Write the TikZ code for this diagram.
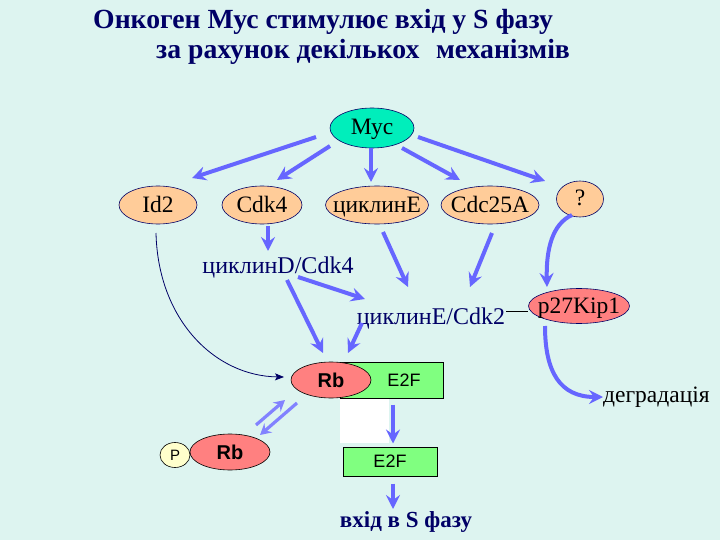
\documentclass[tikz,border=0pt]{standalone}
\usepackage{fontspec}
\setmainfont{Liberation Serif}
\setsansfont{Liberation Sans}
\usetikzlibrary{shapes.geometric,arrows.meta}
\definecolor{bg}{RGB}{221,244,240}
\definecolor{navy}{RGB}{0,0,102}
\definecolor{arr}{RGB}{102,102,255}
\definecolor{arrl}{RGB}{130,130,255}
\definecolor{peach}{RGB}{255,204,153}
\definecolor{salmon}{RGB}{255,128,128}
\definecolor{mycc}{RGB}{0,238,187}
\definecolor{egreen}{RGB}{128,255,128}
\definecolor{pyel}{RGB}{255,255,204}
\begin{document}
\begin{tikzpicture}[x=1pt,y=-1pt,
  bigarrow/.style={draw=arr, line width=4pt, -{Stealth[length=14pt,width=14pt,inset=5pt]}},
  midarrow/.style={draw=arrl, line width=3.2pt, -{Stealth[length=11pt,width=12pt,inset=4pt]}},
  elnode/.style={ellipse, draw=navy, line width=0.6pt, inner ysep=0pt, inner xsep=-9pt, text height=17pt, text depth=3pt, font=\fontsize{23.5}{26}\selectfont},
  rbnode/.style={ellipse, draw=black, line width=0.6pt, fill=salmon, inner sep=0pt, minimum width=80pt, minimum height=36pt, font=\sffamily\bfseries\fontsize{20}{22}\selectfont},
  lbl/.style={text=navy, inner sep=0pt, font=\fontsize{24}{27}\selectfont},
  e2fbox/.style={draw=black, line width=0.6pt, fill=egreen, inner sep=0pt},
  e2ftext/.style={inner sep=0pt, font=\sffamily\fontsize{18}{20}\selectfont},
  title/.style={text=navy, anchor=west, inner sep=0pt, font=\bfseries\fontsize{27.7}{30}\selectfont}
]
\useasboundingbox (0,0) rectangle (720,540);
\fill[bg] (0,0) rectangle (720,540);

% title
\node[title] (t1) at (93,22) {Онкоген Мус стимулює вхід у S фазу};
\node[title] (t2) at (156,52) {за рахунок декількох\hspace{0.6em}механізмів};

% top nodes
\node[elnode, fill=mycc, minimum width=84pt, minimum height=40pt] (myc) at (372,128) {Мус};
\node[elnode, fill=peach, minimum width=78pt, minimum height=38pt] (id2) at (158,205) {Id2};
\node[elnode, fill=peach, minimum width=80pt, minimum height=38pt] (cdk4) at (262,205) {Cdk4};
\node[elnode, fill=peach, minimum width=103pt, minimum height=38pt] (cyce) at (377,205) {циклинЕ};
\node[elnode, fill=peach, minimum width=98pt, minimum height=38pt] (cdc) at (490,205) {Cdc25A};
\node[elnode, fill=peach, minimum width=47pt, minimum height=36pt] (q) at (580,199) {?};

\node[lbl] (cycd) at (278,267) {циклинD/Cdk4};
\node[lbl] (cyce2) at (431,318) {циклинЕ/Cdk2};
\node[elnode, fill=salmon, minimum width=101pt, minimum height=35pt] (p27) at (579,306) {p27Kip1};
\node[inner sep=0pt, font=\fontsize{23.5}{26}\selectfont, anchor=west] (degr) at (603,397) {деградація};

% Rb / E2F complex
\fill[white] (340,398) rectangle (389,443);
\node[e2fbox, minimum width=103pt, minimum height=36pt] (e2fa) at (391.5,380) {};
\node[e2ftext] (e2fat) at (404,380) {E2F};
\node[rbnode] (rb) at (331,380) {Rb};

\node[e2fbox, minimum width=94pt, minimum height=29pt, e2ftext] (e2fb) at (390,461.5) {E2F};
\node[text=navy, inner sep=0pt, font=\bfseries\fontsize{23}{26}\selectfont] (sph) at (406,522) {вхід в S фазу};

\node[ellipse, draw=black, line width=0.6pt, fill=pyel, minimum width=30pt, minimum height=25pt, inner sep=0pt, font=\sffamily\fontsize{15}{17}\selectfont] (p) at (175,455) {P};
\node[rbnode] (rb2) at (230,452) {Rb};

% arrows from Myc
\draw[bigarrow] ([shift={(-56,9)}]myc.center) -- ([shift={(34,-27)}]id2.center);
\draw[bigarrow] ([shift={(-42,18)}]myc.center) -- ([shift={(15,-25)}]cdk4.center);
\draw[bigarrow] ([shift={(-1,20)}]myc.center) -- ([shift={(-6,-23)}]cyce.center);
\draw[bigarrow] ([shift={(30,20)}]myc.center) -- ([shift={(-30,-25)}]cdc.center);
\draw[bigarrow] ([shift={(46,9)}]myc.center) -- ([shift={(-35,-18)}]q.center);

% second level
\draw[bigarrow] ([shift={(6,21)}]cdk4.center) -- ([shift={(-10,-16)}]cycd.center);
\draw[bigarrow] ([shift={(6,27)}]cyce.center) -- ([shift={(-23,-31)}]cyce2.center);
\draw[bigarrow] ([shift={(2,28)}]cdc.center) -- ([shift={(39,-31)}]cyce2.center);
\draw[bigarrow] ([shift={(20,10)}]cycd.center) -- ([shift={(-66,-19)}]cyce2.center);
\draw[bigarrow] ([shift={(9,13)}]cycd.center) -- ([shift={(-8,-27)}]rb.center);
\draw[bigarrow] ([shift={(-69,5)}]cyce2.center) -- ([shift={(17,-27)}]rb.center);
\draw[bigarrow] ([shift={(-8,16)}]q.center) .. controls (552,224) and (546,250) .. ([shift={(-32,-19)}]p27.center);
\draw[bigarrow] ([shift={(-34,20)}]p27.center) .. controls (545,372) and (560,397) .. (degr.west);
\draw[black, line width=0.8pt] ([shift={(75,-7)}]cyce2.center) -- ([shift={(-51,5)}]p27.center);

% Id2 thin curve
\draw[navy, line width=0.8pt, -{Stealth[length=9pt,width=7pt,inset=2pt]}] ([shift={(-2,28)}]id2.center) .. controls (158,320) and (215,376) .. ([shift={(-47,-3)}]rb.center);

% E2F release
\draw[bigarrow] ([shift={(3,-57)}]e2fb.center) -- ([shift={(3,-18)}]e2fb.center);
\draw[bigarrow] ([shift={(3,22)}]e2fb.center) -- ([shift={(-13,-13)}]sph.center);

% Rb phosphorylation equilibrium
\draw[midarrow] ([shift={(26,-27)}]rb2.center) -- ([shift={(-46,20)}]rb.center);
\draw[midarrow] ([shift={(-34,23)}]rb.center) -- ([shift={(30,-17)}]rb2.center);
\end{tikzpicture}
\end{document}
